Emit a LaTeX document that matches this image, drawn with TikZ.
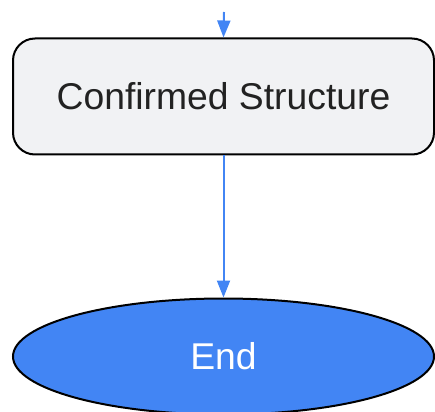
\documentclass[tikz,border=0pt]{standalone}
\usepackage{fontspec}
\setmainfont{Liberation Sans}
\usetikzlibrary{shapes.geometric,arrows.meta}
\definecolor{flowblue}{HTML}{4285F4}
\definecolor{boxgray}{HTML}{F1F2F4}
\definecolor{txtgray}{HTML}{222222}
\tikzset{
  procbox/.style={draw=black, line width=2pt, fill=boxgray, rounded corners=22pt,
    minimum width=421pt, minimum height=116pt, inner sep=0pt, text=txtgray,
    font=\fontsize{37.3}{42}\selectfont},
  endnode/.style={ellipse, draw=black, line width=2pt, fill=flowblue,
    minimum width=421pt, minimum height=116pt, inner sep=0pt, text=white,
    font=\fontsize{37.3}{42}\selectfont},
  flow/.style={draw=flowblue, line width=2pt, -{Triangle[length=17pt,width=13pt]}}
}
\begin{document}
\begin{tikzpicture}[x=1pt,y=1pt]
\useasboundingbox (0,0) rectangle (435,-411);
\coordinate (top) at (224,-12);
\node[procbox] (conf) at (223.5,-96.5) {Confirmed Structure};
\node[endnode] (end) at (223.5,-356.5) {End};
\draw[flow] (top) -- (conf.north);
\draw[flow] (conf.south) -- (end.north);
\end{tikzpicture}
\end{document}
